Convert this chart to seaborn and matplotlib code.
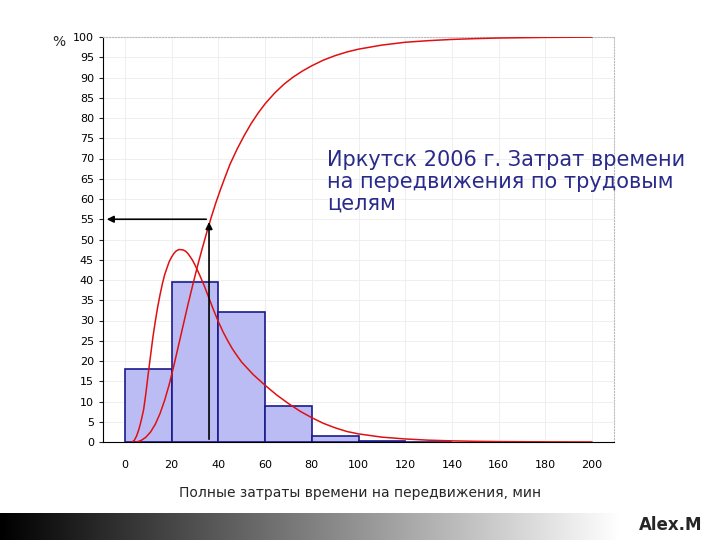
import numpy as np
import matplotlib
matplotlib.use("Agg")
import matplotlib.pyplot as plt
import seaborn as sns

# histogram bins (left edges, width 20) and percentages
bin_left = [0, 20, 40, 60, 80, 100, 120]
bin_pct = [18, 39.5, 32, 9, 1.5, 0.3, 0.1]

# fitted density (scaled to %)
pdf_x = [3, 4, 5, 6, 7, 8, 9, 10, 11, 12, 13, 14, 15, 16, 17, 18, 19, 20, 21, 22, 23, 24, 25, 26, 27,
         28, 29, 30, 32, 34, 36, 38, 40, 42, 44, 46, 48, 50, 55, 60, 65, 70, 75, 80, 85, 90, 95,
         100, 110, 120, 130, 140, 150, 160, 180, 200]
pdf_y = [0, 0.4, 1.5, 3.2, 5.4, 8, 12.2, 17, 21.5, 26, 29.8, 33.3, 36.3, 39, 41.3, 43, 44.6, 45.7,
         46.6, 47.2, 47.5, 47.5, 47.4, 47.1, 46.5, 45.7, 44.8, 43.7, 41.2, 38.5, 35.5, 32.5, 29.7,
         27.2, 25, 23, 21.3, 19.7, 16.6, 14, 11.6, 9.5, 7.6, 6, 4.6, 3.5, 2.6, 2, 1.2, 0.75, 0.45,
         0.28, 0.17, 0.1, 0.04, 0.01]

# cumulative curve
cdf_x = [5, 7, 9, 11, 13, 15, 17, 19, 21, 23, 25, 27, 29, 31, 33, 35, 37, 39, 41, 43, 45, 48, 51,
         54, 57, 60, 64, 68, 72, 76, 80, 85, 90, 95, 100, 110, 120, 130, 140, 150, 160, 180, 200]
cdf_y = [0, 0.4, 1.2, 2.5, 4.4, 7, 10.3, 14.3, 19, 24, 29, 34, 38.7, 43.3, 47.6, 51.7, 55.6, 59.2,
         62.5, 65.6, 68.6, 72.3, 75.6, 78.6, 81.2, 83.5, 86.1, 88.3, 90.1, 91.6, 92.9, 94.3, 95.4,
         96.3, 97, 98, 98.7, 99.1, 99.4, 99.6, 99.75, 99.9, 99.97]

arrow_x, arrow_y = 36, 55

sns.set_style("white")
fig = plt.figure(figsize=(7.2, 5.4), dpi=100)
ax = fig.add_axes([103 / 720, 1 - 442 / 540, 511 / 720, 405 / 540])

ax.bar(bin_left, bin_pct, width=20, align="edge", color="#bcbcf4", edgecolor="#1a1a8c", linewidth=1.2, zorder=2)
sns.lineplot(x=pdf_x, y=pdf_y, ax=ax, color="#e01010", linewidth=1.1, zorder=3)
sns.lineplot(x=cdf_x, y=cdf_y, ax=ax, color="#e01010", linewidth=1.1, zorder=3)

ax.annotate("", xy=(arrow_x, arrow_y), xytext=(arrow_x, 0),
            arrowprops=dict(arrowstyle="-|>", color="black", lw=1.2, mutation_scale=10), zorder=4)
ax.annotate("", xy=(-9, arrow_y), xytext=(arrow_x, arrow_y),
            arrowprops=dict(arrowstyle="-|>", color="black", lw=1.2, mutation_scale=10), zorder=4)

ax.set_xlim(-9.4, 209.4)
ax.set_ylim(0, 100)
ax.set_xticks(range(0, 201, 20))
ax.set_yticks(range(0, 101, 5))
ax.tick_params(labelsize=8, length=3, direction="out", left=True, bottom=False, labelcolor="black")
ax.tick_params(axis="x", pad=10)
ax.grid(True, color="#ececec", linewidth=0.6, zorder=0)
for s in ["top", "right"]:
    ax.spines[s].set_color("#bbbbbb")
    ax.spines[s].set_linestyle(":")
ax.spines["left"].set_color("black")
ax.spines["bottom"].set_color("black")

ax.text(86.5, 72, "Иркутск 2006 г. Затрат времени\nна передвижения по трудовым\nцелям",
        fontsize=15, color="#2a2a8a", va="top", ha="left", linespacing=1.1)
fig.text(52 / 720, 1 - 42 / 540, "%", fontsize=10, ha="left", va="center")
fig.text(360 / 720, 1 - 493 / 540, "Полные затраты времени на передвижения, мин",
         fontsize=10, ha="center", va="center")

# gradient band at bottom
band = fig.add_axes([0, 0, 620 / 720, 27 / 540])
band.imshow(np.linspace(0, 1, 256)[None, :], cmap="gray", aspect="auto", extent=[0, 1, 0, 1])
band.axis("off")
fig.text(702 / 720, 1 - 525 / 540, "Alex.M", fontsize=12, fontweight="bold", ha="right", va="center")

fig.savefig("out.png", dpi=100)
